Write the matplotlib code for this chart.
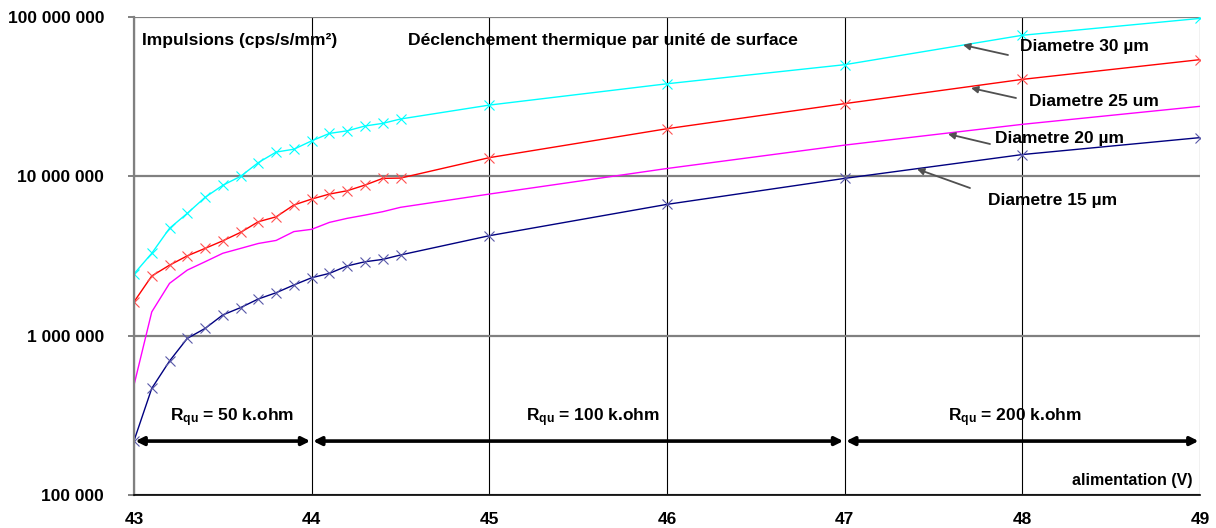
import matplotlib
matplotlib.use("Agg")
import matplotlib.pyplot as plt
from matplotlib.ticker import FixedLocator, NullLocator

plt.rcParams['font.family'] = ['Liberation Sans', 'DejaVu Sans']
plt.rcParams['mathtext.fontset'] = 'custom'
plt.rcParams['mathtext.rm'] = 'Liberation Sans:bold'
plt.rcParams['mathtext.bf'] = 'Liberation Sans:bold'
plt.rcParams['mathtext.it'] = 'Liberation Sans:bold'

# ---- data ----
voltage = [43.0, 43.1, 43.2, 43.3, 43.4, 43.5, 43.6, 43.7, 43.8, 43.9,
           44.0, 44.1, 44.2, 44.3, 44.4, 44.5, 45.0, 46.0, 47.0, 48.0, 49.0]

d30 = [2.44e6, 3.29e6, 4.72e6, 5.86e6, 7.38e6, 8.79e6, 10.0e6, 12.2e6, 14.2e6, 14.8e6,
       16.7e6, 18.6e6, 19.3e6, 20.7e6, 21.5e6, 22.9e6, 28.0e6, 38.1e6, 50.2e6, 76.8e6, 98.0e6]
d25 = [1.63e6, 2.37e6, 2.77e6, 3.17e6, 3.53e6, 3.94e6, 4.45e6, 5.19e6, 5.57e6, 6.61e6,
       7.20e6, 7.74e6, 8.12e6, 8.81e6, 9.71e6, 9.75e6, 13.1e6, 19.9e6, 28.6e6, 40.6e6, 54.0e6]
d20 = [0.49e6, 1.41e6, 2.13e6, 2.58e6, 2.91e6, 3.29e6, 3.53e6, 3.79e6, 3.96e6, 4.50e6,
       4.65e6, 5.14e6, 5.45e6, 5.71e6, 6.00e6, 6.39e6, 7.74e6, 11.2e6, 15.7e6, 21.2e6, 27.5e6]
d15 = [0.219e6, 0.467e6, 0.693e6, 0.962e6, 1.11e6, 1.35e6, 1.50e6, 1.70e6, 1.86e6, 2.08e6,
       2.31e6, 2.46e6, 2.74e6, 2.91e6, 3.01e6, 3.21e6, 4.24e6, 6.67e6, 9.71e6, 13.7e6, 17.5e6]

x_ticks = [43, 44, 45, 46, 47, 48, 49]
y_ticks = [1e5, 1e6, 1e7, 1e8]
y_tick_labels = ["100 000", "1 000 000", "10 000 000", "100 000 000"]

regions = [(43, 44, "50"), (44, 47, "100"), (47, 49, "200")]
region_label_x = [43.55, 45.58, 47.96]
region_arrow_y = 2.18e5
region_label_y = 3.04e5

W, H = 1216, 528
fig = plt.figure(figsize=(W / 100, H / 100), dpi=100)
ax = fig.add_axes([134 / W, 1 - 495 / H, (1200 - 134) / W, (495 - 17) / H])

def fpos(px, py):
    return (px / W, 1 - py / H)

ax.plot(voltage, d30, color='#00FFFF', lw=1.0, marker='x', ms=7, mew=0.8)
ax.plot(voltage, d25, color='#FF0000', lw=1.0, marker='x', ms=7, mew=0.8,
        markeredgecolor='#FF5050')
ax.plot(voltage, d20, color='#FF00FF', lw=1.0)
ax.plot(voltage, d15, color='#000080', lw=1.0, marker='x', ms=7, mew=0.8,
        markeredgecolor='#5858A8')

ax.set_yscale('log')
ax.set_xlim(43, 49)
ax.set_ylim(1e5, 1e8)
ax.yaxis.set_major_locator(FixedLocator(y_ticks))
ax.yaxis.set_minor_locator(NullLocator())
ax.set_yticklabels(y_tick_labels)
ax.set_xticks(x_ticks)
ax.set_xticklabels([str(v) for v in x_ticks])

ax.grid(axis='y', color='#808080', lw=1.6)
ax.grid(axis='x', color='#000000', lw=0.8)
ax.set_axisbelow(True)
for s in ['top', 'right']:
    ax.spines[s].set_visible(False)
ax.spines['left'].set_color('#808080')
ax.spines['left'].set_linewidth(1.6)
ax.spines['bottom'].set_color('black')
ax.spines['bottom'].set_linewidth(1.2)

ax.tick_params(axis='y', length=4.5, width=1.4, color='#808080', pad=17,
               labelsize=12.5)
ax.tick_params(axis='x', length=0, pad=12, labelsize=12.5)
for lab in ax.get_xticklabels() + ax.get_yticklabels():
    lab.set_fontweight('bold')

# titles
fig.text(*fpos(142, 40), "Impulsions (cps/s/mm²)", fontsize=12.5, fontweight='bold',
         ha='left', va='center')
fig.text(*fpos(408, 40), "Déclenchement thermique par unité de surface", fontsize=12.6,
         fontweight='bold', ha='left', va='center')
fig.text(*fpos(1192, 481), "alimentation (V)", fontsize=11.5, fontweight='bold',
         ha='right', va='center')

# series labels with arrows
labels = [
    ("Diametre 30 µm", (1020, 47), (1008, 55), (963, 45)),
    ("Diametre 25 um", (1029, 101), (1016, 98), (971, 88)),
    ("Diametre 20 µm", (995, 138), (990, 144), (948, 134)),
    ("Diametre 15 µm", (988, 200), (970, 188), (917, 169)),
]
for text, tpos, tail, head in labels:
    fig.text(*fpos(*tpos), text, fontsize=12.5, fontweight='bold', ha='left', va='center')
    ax.annotate('', xy=fpos(*head), xycoords='figure fraction',
                xytext=fpos(*tail), textcoords='figure fraction',
                arrowprops=dict(arrowstyle='-|>', color='#505050', lw=1.3,
                                mutation_scale=10, shrinkA=0, shrinkB=0))

# resistance regions
for (x0, x1, r), lx in zip(regions, region_label_x):
    ax.annotate('', xy=(x0, region_arrow_y), xytext=(x1, region_arrow_y),
                arrowprops=dict(arrowstyle='<|-|>', color='black', lw=2.6,
                                mutation_scale=12, shrinkA=1, shrinkB=1))
    ax.text(lx, region_label_y, r"$\mathbf{R_{qu}}$" + f" = {r} k.ohm",
            fontsize=12.5, fontweight='bold', ha='center', va='center')

fig.savefig("out.png", dpi=100)
